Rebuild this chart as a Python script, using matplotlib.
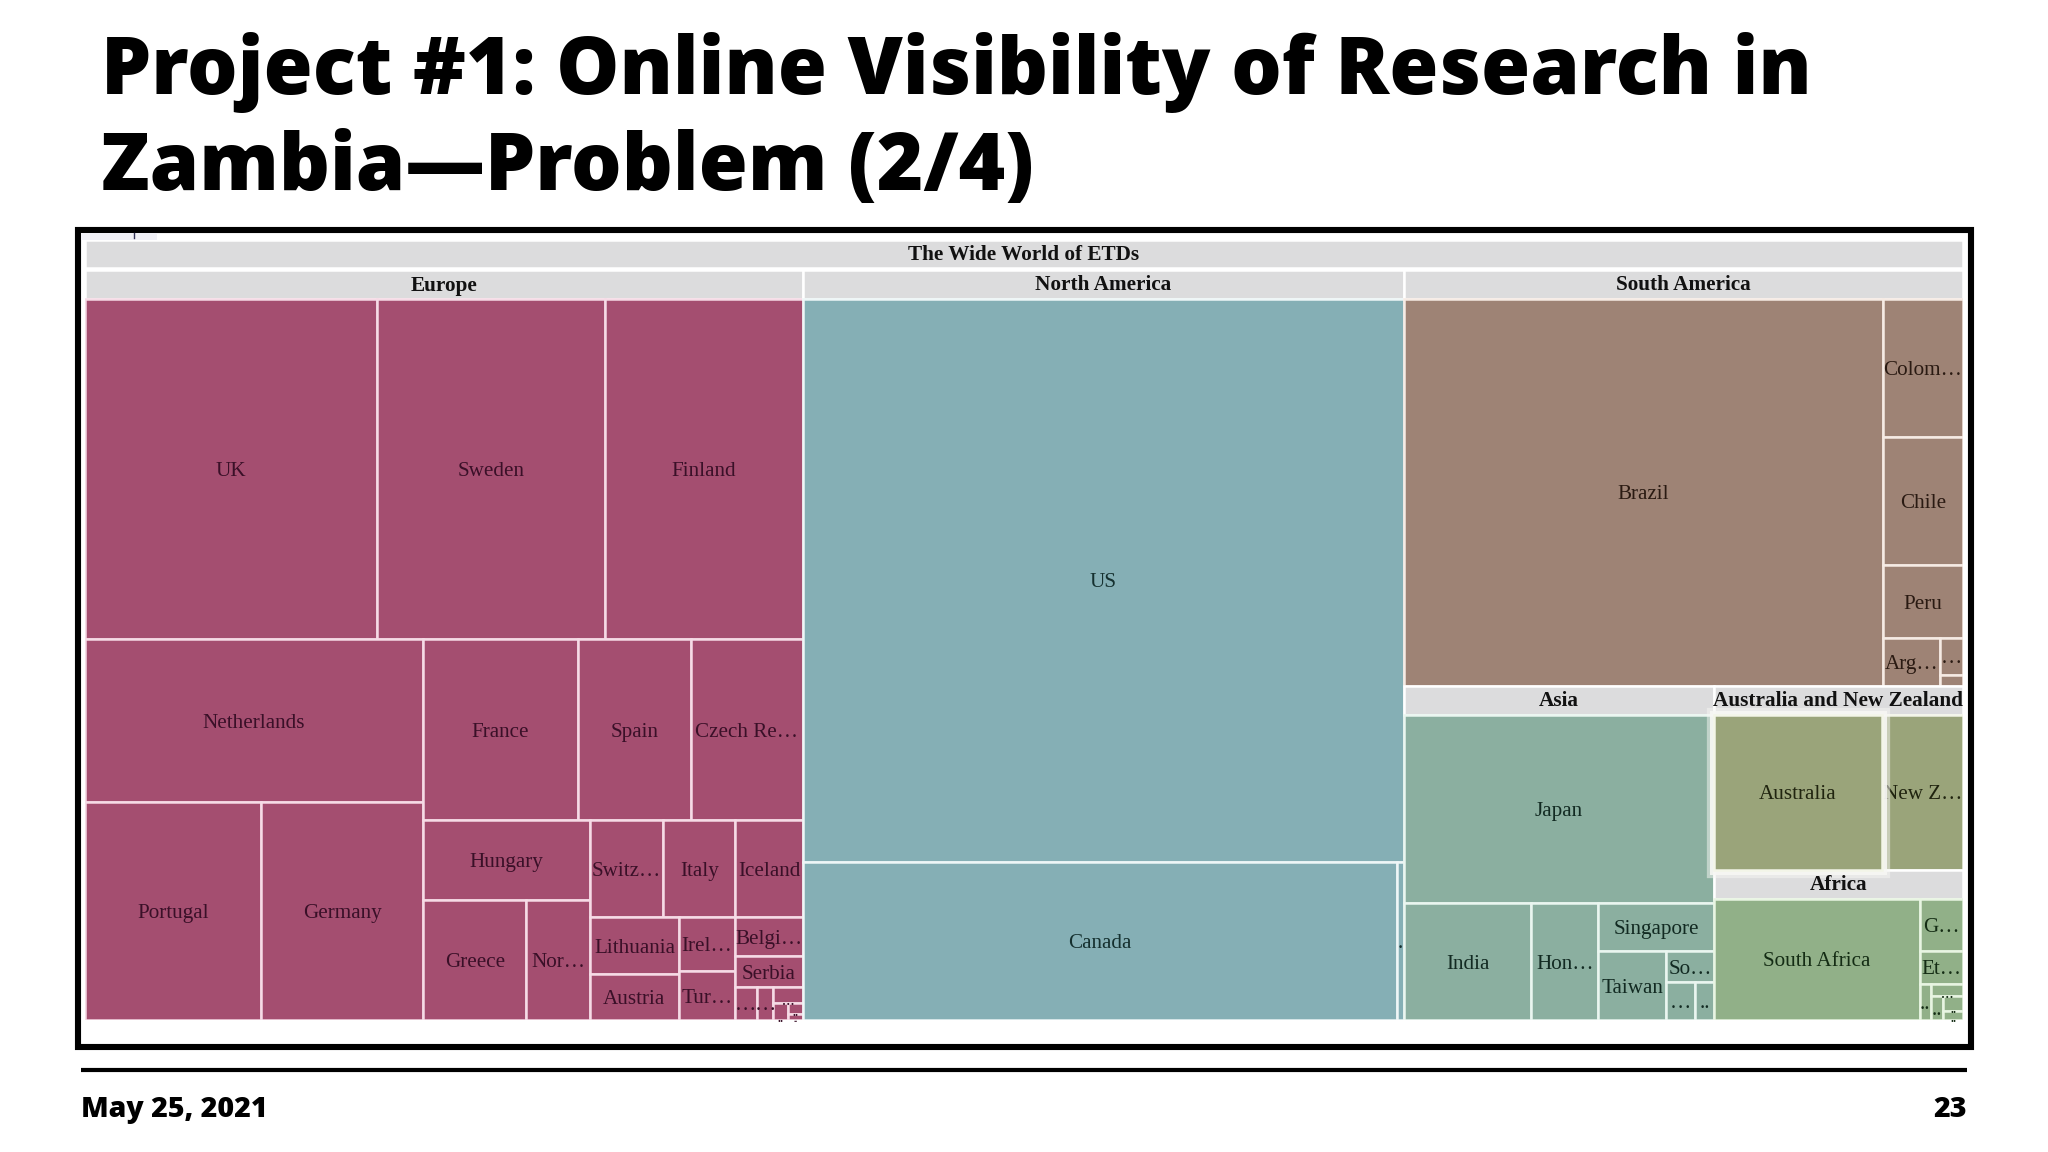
"""Treemap slide: online visibility of ETDs by region."""

import matplotlib

matplotlib.use("Agg")
import matplotlib.pyplot as plt
from matplotlib.patches import Rectangle

W, H = 2048, 1152

title_lines = ["Project #1: Online Visibility of Research in", "Zambia\u2014Problem (2/4)"]
footer_date = "May 25, 2021"
footer_page = "23"
root_label = "The Wide World of ETDs"

# areas of the tiles, thousand square pixels
europe_labels = ["UK", "Sweden", "Finland", "Netherlands", "Portugal", "Germany", "France", "Spain",
                 "Czech Re\u2026", "Hungary", "Greece", "Nor\u2026", "Switz\u2026", "Italy", "Iceland",
                 "Lithuania", "Austria", "Irel\u2026", "Tur\u2026", "Belgi\u2026", "Serbia",
                 "\u2026", "\u2026", "\u2026", "..", "..", ".."]
europe_values = [99.3, 77.4, 67.5, 54.8, 38.4, 35.3, 27.9, 20.3, 20.2, 13.3, 12.4, 7.6, 7.2, 7.0, 6.6,
                 5.1, 4.1, 3.0, 2.7, 2.65, 2.1, 0.73, 0.53, 0.48, 0.255, 0.17, 0.085]

namerica_labels = ["US", "Canada", "."]
namerica_values = [337.8, 93.9, 1.1]

samerica_labels = ["Brazil", "Colom\u2026", "Chile", "Peru", "Arg\u2026", "\u2026", ""]
samerica_values = [183.9, 11.0, 10.2, 5.8, 2.7, 0.83, 0.25]

asia_labels = ["Japan", "India", "Hon\u2026", "Singapore", "Taiwan", "So\u2026", "\u2026", ".."]
asia_values = [58.0, 14.7, 7.8, 5.5, 4.6, 1.47, 1.1, 0.7]

anz_labels = ["Australia", "New Z\u2026"]
anz_values = [25.7, 12.4]

africa_labels = ["South Africa", "G\u2026", "Et\u2026", "..", "\u2026", "..", "..", ".."]
africa_values = [24.8, 2.24, 1.4, 0.4, 0.38, 0.3, 0.3, 0.18]

# region footprints, header strip included
region_names = ["Europe", "North America", "South America", "Asia", "Australia and New Zealand", "Africa"]
region_areas = [537.8, 450.1, 232.0, 103.5, 45.8, 37.4]

# how each region is cut up: "h" side by side, "v" stacked, ints index the lists above
europe_split = ("v", [("h", [0, 1, 2]),
                      ("h", [("v", [3, ("h", [4, 5])]),
                             ("v", [("h", [6, 7, 8]),
                                    ("h", [("v", [9, ("h", [10, 11])]),
                                           ("v", [("h", [12, 13, 14]),
                                                  ("h", [("v", [15, 16]), ("v", [17, 18]),
                                                         ("v", [19, 20, ("h", [21, 22, ("v", [23, ("h", [24, ("v", [25, 26])])])])])])])])])])])
namerica_split = ("v", [0, ("h", [1, 2])])
samerica_split = ("h", [0, ("v", [1, 2, 3, ("h", [4, ("v", [5, 6])])])])
asia_split = ("v", [0, ("h", [1, 2, ("v", [3, ("h", [4, ("v", [5, ("h", [6, 7])])])])])])
anz_split = ("h", [0, 1])
africa_split = ("h", [0, ("v", [1, 2, ("h", [3, ("v", [4, ("h", [5, ("v", [6, 7])])])])])])

EUROPE, NAMERICA, SAMERICA, ASIA, ANZ, AFRICA = "#a44e70", "#85afb5", "#9e8375", "#8bafa0", "#9aa47a", "#91b088"
EUROPE_TXT, NAMERICA_TXT, SAMERICA_TXT, ASIA_TXT, ANZ_TXT, AFRICA_TXT = "#3a1028", "#15302f", "#2a1a12", "#122a22", "#20240f", "#142c14"
HEADER = "#dcdcdd"
SLIDE_FONT = "Open Sans"

plt.rcParams["font.family"] = ["Liberation Serif", "DejaVu Sans"]

fig = plt.figure(figsize=(W / 100, H / 100), dpi=100, facecolor="white")
page = fig.add_axes([0, 0, 1, 1])
page.set_xlim(0, W)
page.set_ylim(H, 0)
page.axis("off")

for line, base in zip(title_lines, [94, 190]):
    page.text(101, base, line, fontsize=57.3, fontweight=800, family=SLIDE_FONT, color="black", va="baseline")

page.add_patch(Rectangle((77.5, 230), 1893, 817, fill=False, edgecolor="black", linewidth=4.4))
page.add_patch(Rectangle((81, 233), 76, 7, facecolor="#f0f0f6", edgecolor="none"))
page.plot([134, 134], [233, 238], color="#335", linewidth=1)
page.plot([81, 1967], [1070, 1070], color="black", linewidth=3, solid_capstyle="butt")
page.text(81, 1117, footer_date, fontsize=20.5, fontweight=800, family=SLIDE_FONT, va="baseline")
page.text(1967, 1117, footer_page, fontsize=20.5, fontweight=800, family=SLIDE_FONT, va="baseline", ha="right")

# tree axes, from the top of the root strip to the bottom of the tiles
left, right, top, bottom = 85, 1963, 240, 1020
ax = fig.add_axes([left / W, 1 - bottom / H, (right - left) / W, (bottom - top) / H])
ax.set_xlim(0, right - left)
ax.set_ylim(bottom - top, 0)
ax.axis("off")
STRIP = 29  # header strip height
LINE = 1.8


def total(node, values):
    if isinstance(node, int):
        return values[node]
    return sum(total(c, values) for c in node[1])


def cut(node, values, x, y, w, h, out):
    """Walk the split tree, appending (index, x, y, w, h) for each tile."""
    if isinstance(node, int):
        out.append((node, x, y, w, h))
        return
    whole = total(node, values)
    for child in node[1]:
        share = total(child, values) / whole
        if node[0] == "h":
            cut(child, values, x, y, w * share, h, out)
            x += w * share
        else:
            cut(child, values, x, y, w, h * share, out)
            y += h * share


def draw_region(name, split, labels, values, color, txt, edge, x, y, w, h):
    ax.add_patch(Rectangle((x, y), w, STRIP, facecolor=HEADER, edgecolor="white", linewidth=LINE, zorder=2))
    ax.text(x + w / 2, y + STRIP / 2 + 1, name, fontsize=15.3, fontweight="bold", color="#111111",
            ha="center", va="center", zorder=8)
    tiles = []
    cut(split, values, x, y + STRIP, w, h - STRIP, tiles)
    for i, tx, ty, tw, th in tiles:
        z = 5 if labels[i] == "Australia" else 2
        if z == 5:
            # hover halo around the highlighted tile
            ax.add_patch(Rectangle((tx, ty), tw, th, facecolor="none", edgecolor="#f7f7f4", alpha=0.5, linewidth=11, zorder=4))
            ax.add_patch(Rectangle((tx, ty), tw, th, facecolor="none", edgecolor="#f7f7f4", alpha=0.9, linewidth=6.5, zorder=4))
        ax.add_patch(Rectangle((tx, ty), tw, th, facecolor=color, edgecolor=edge, linewidth=LINE, zorder=z))
        if th < 20:
            # tiny tiles: the dots sit on the tile's bottom edge
            size = 9 if th >= 8 else 6
            ax.text(tx + tw / 2, ty + th + 2, labels[i], fontsize=size, fontweight="bold", color=txt, ha="center", va="baseline", zorder=z + 1)
        else:
            ax.text(tx + tw / 2, ty + th / 2 + 2.5, labels[i], fontsize=15.2, color=txt, ha="center", va="center", zorder=z + 1)


tree_w, tree_h = right - left, bottom - top
ax.add_patch(Rectangle((0, 0), tree_w, STRIP - 1, facecolor=HEADER, edgecolor="white", linewidth=LINE))
ax.text(tree_w / 2, (STRIP - 1) / 2 + 1, root_label, fontsize=15.3, fontweight="bold", color="#111111", ha="center", va="center")

# the rest of the box is split between the six regions by footprint
y0 = STRIP + 1
col_h = tree_h - y0
eu_w = tree_w * region_areas[0] / sum(region_areas)
na_w = tree_w * region_areas[1] / sum(region_areas)
rest_w = tree_w - eu_w - na_w
rest = sum(region_areas[2:])
sa_h = col_h * region_areas[2] / rest
as_w = rest_w * region_areas[3] / sum(region_areas[3:])
anz_h = (col_h - sa_h) * region_areas[4] / (region_areas[4] + region_areas[5])

draw_region(region_names[0], europe_split, europe_labels, europe_values, EUROPE, EUROPE_TXT, "#f6dbe6",
            0, y0, eu_w, col_h)
draw_region(region_names[1], namerica_split, namerica_labels, namerica_values, NAMERICA, NAMERICA_TXT, "#eef6f7",
            eu_w, y0, na_w, col_h)
draw_region(region_names[2], samerica_split, samerica_labels, samerica_values, SAMERICA, SAMERICA_TXT, "#f6ebe4",
            eu_w + na_w, y0, rest_w, sa_h)
draw_region(region_names[3], asia_split, asia_labels, asia_values, ASIA, ASIA_TXT, "#eaf6f0",
            eu_w + na_w, y0 + sa_h, as_w, col_h - sa_h)
draw_region(region_names[4], anz_split, anz_labels, anz_values, ANZ, ANZ_TXT, "#f3f5e8",
            eu_w + na_w + as_w, y0 + sa_h, rest_w - as_w, anz_h)
draw_region(region_names[5], africa_split, africa_labels, africa_values, AFRICA, AFRICA_TXT, "#e8f5e2",
            eu_w + na_w + as_w, y0 + sa_h + anz_h, rest_w - as_w, col_h - sa_h - anz_h)

fig.savefig("out.png", dpi=100)
plt.close(fig)
